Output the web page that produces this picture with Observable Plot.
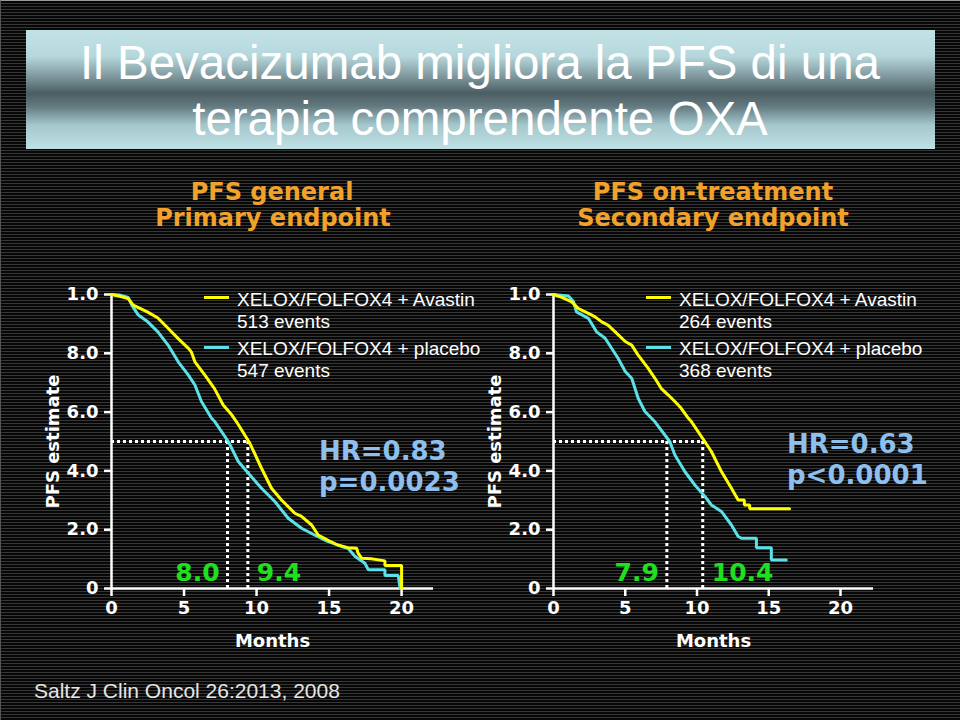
<!DOCTYPE html>
<html>
<head>
<meta charset="utf-8">
<script src="https://cdn.jsdelivr.net/npm/d3@7"></script>
<script src="https://cdn.jsdelivr.net/npm/@observablehq/plot@0.6"></script>
<style>
html, body { margin: 0; padding: 0; background: #000; }
#page {
  position: relative; width: 960px; height: 720px; overflow: hidden;
  background: repeating-linear-gradient(to bottom, #070707 0px, #070707 2px, #363636 2px, #363636 3px);
  box-sizing: border-box; border-top: 1px solid #9a9a9a; border-left: 1px solid #555;
}
#titlebox {
  position: absolute; left: 25px; top: 29px; width: 909px; height: 119px;
  background: linear-gradient(to bottom, #c2e2e6 0%, #b6d8dc 22%, #7c949a 40%, #4c5e63 53%, #62797f 64%, #a5c8cd 80%, #bfe1e5 100%);
}
.t { position: absolute; white-space: nowrap; line-height: normal; }
.seg { position: absolute; height: 3px; width: 25px; }
.panel { position: absolute; top: 270px; }
</style>
</head>
<body>
<div id="page"><div id="titlebox"></div></div>
<script>
// ---------- data ----------
const titleLines = ["Il Bevacizumab migliora la PFS di una", "terapia comprendente OXA"];
const panelTitles = ["PFS general", "PFS on-treatment"];
const panelSubtitles = ["Primary endpoint", "Secondary endpoint"];
const seriesNames = ["XELOX/FOLFOX4 + Avastin", "XELOX/FOLFOX4 + placebo"];
const leftEvents = ["513 events", "547 events"];
const rightEvents = ["264 events", "368 events"];
const leftStats = ["HR=0.83", "p=0.0023"];
const rightStats = ["HR=0.63", "p<0.0001"];
const leftMedians = [8.0, 9.4];
const rightMedians = [7.9, 10.4];
const xTicks = [0, 5, 10, 15, 20];
const yTicks = [0, 0.2, 0.4, 0.6, 0.8, 1.0];
const yTickLabels = ["0", "2.0", "4.0", "6.0", "8.0", "1.0"];
const caption = "Saltz J Clin Oncol 26:2013, 2008";

// PFS general — Avastin (yellow)
const leftAvaMonths = [0, 0.5, 1.15, 1.5, 2.5, 3.2, 3.9, 4.6, 5.3, 5.5, 5.75, 6.44, 7.1, 7.7, 8.3, 8.62, 9.54, 10.34, 11.03, 11.72, 12.64, 13.1, 13.8, 14.25, 14.9, 15.6, 16.3, 16.9, 17.0, 17.24, 17.9, 18.85, 18.85, 20.0, 20.0];
const leftAvaPFS    = [1.0, 0.995, 0.986, 0.964, 0.94, 0.92, 0.885, 0.85, 0.817, 0.805, 0.771, 0.726, 0.68, 0.624, 0.59, 0.567, 0.494, 0.409, 0.341, 0.301, 0.256, 0.245, 0.216, 0.182, 0.165, 0.148, 0.139, 0.137, 0.12, 0.103, 0.101, 0.094, 0.078, 0.078, 0.0];
// PFS general — placebo (cyan)
const leftPlaMonths = [0, 0.6, 1.15, 1.4, 1.85, 2.5, 3.2, 3.9, 4.6, 5.3, 5.75, 6.2, 6.9, 7.13, 8.05, 8.74, 9.54, 10.34, 11.26, 12.18, 13.1, 14.0, 14.9, 15.86, 16.3, 16.8, 17.47, 17.7, 18.85, 18.85, 19.77, 19.9];
const leftPlaPFS    = [1.0, 0.998, 0.99, 0.964, 0.93, 0.907, 0.873, 0.828, 0.771, 0.726, 0.692, 0.636, 0.579, 0.567, 0.5, 0.432, 0.386, 0.341, 0.296, 0.239, 0.205, 0.182, 0.16, 0.143, 0.137, 0.109, 0.086, 0.064, 0.064, 0.044, 0.044, 0.0];
// PFS on-treatment — Avastin (yellow)
const rightAvaMonths = [0, 0.58, 1.27, 1.74, 2.43, 2.9, 3.36, 3.8, 4.3, 5.0, 5.45, 5.9, 6.6, 7.07, 7.5, 8.0, 8.46, 8.9, 9.4, 9.62, 10.54, 11.0, 11.7, 12.4, 12.87, 13.3, 13.3, 13.67, 13.67, 16.45];
const rightAvaPFS    = [1.0, 0.99, 0.975, 0.952, 0.936, 0.924, 0.907, 0.896, 0.873, 0.84, 0.828, 0.794, 0.749, 0.715, 0.681, 0.658, 0.636, 0.613, 0.579, 0.567, 0.5, 0.466, 0.398, 0.341, 0.301, 0.301, 0.284, 0.284, 0.271, 0.271];
// PFS on-treatment — placebo (cyan)
const rightPlaMonths = [0, 1.04, 1.4, 1.6, 2.43, 3.0, 3.6, 4.05, 4.5, 5.0, 5.45, 5.9, 6.37, 7.07, 8.1, 8.46, 9.15, 9.85, 10.54, 11.0, 11.7, 12.4, 12.87, 13.1, 14.14, 14.14, 15.18, 15.18, 16.22];
const rightPlaPFS    = [1.0, 0.995, 0.975, 0.941, 0.919, 0.873, 0.851, 0.817, 0.783, 0.738, 0.715, 0.647, 0.602, 0.567, 0.5, 0.454, 0.398, 0.352, 0.314, 0.284, 0.262, 0.216, 0.177, 0.171, 0.171, 0.139, 0.139, 0.097, 0.097];

// ---------- styles ----------
const YELLOW = "#ffff00", CYAN = "#5ae2e8", GREEN = "#1fe01f", STATBLUE = "#8ec0ee", ORANGE = "#f2a22a";
const ASC = {"Liberation Sans": 0.905, "DejaVu Sans": 0.928};
const page = document.getElementById("page");

function place(txt, x, y, o) {
  const d = document.createElement("div");
  d.className = "t";
  d.textContent = txt;
  const fam = o.font || "Liberation Sans";
  d.style.fontFamily = `'${fam}'`;
  d.style.fontSize = o.size + "px";
  d.style.fontWeight = o.weight || "normal";
  d.style.color = o.color || "#fff";
  d.style.top = (y - ASC[fam] * o.size) + "px";
  d.style.left = x + "px";
  if (o.anchor === "middle") d.style.transform = "translateX(-50%)";
  page.appendChild(d);
  return d;
}
function seg(x, y, color) {
  const d = document.createElement("div");
  d.className = "seg";
  d.style.left = x + "px"; d.style.top = (y - 1.5) + "px"; d.style.background = color;
  page.appendChild(d);
}

// title
place(titleLines[0], 479, 77, {size: 47.5, color: "#fff", anchor: "middle"});
place(titleLines[1], 479, 133, {size: 47.5, color: "#fff", anchor: "middle"});
// panel titles
const subFont = {font: "DejaVu Sans", weight: "bold", size: 24, color: ORANGE, anchor: "middle"};
place(panelTitles[0], 271, 199, subFont);
place(panelSubtitles[0], 272, 225, subFont);
place(panelTitles[1], 712, 199, subFont);
place(panelSubtitles[1], 712, 225, subFont);

function panel(opts) {
  const {left, width, marginLeft, marginRight, xMax, ava, pla, medians} = opts;
  const chart = Plot.plot({
    width, height: 390,
    marginLeft, marginRight, marginTop: 23, marginBottom: 73,
    x: {domain: [0, xMax]},
    y: {domain: [0, 1]},
    style: {background: "transparent", color: "#fff", fontFamily: "DejaVu Sans", fontWeight: "bold", fontSize: "18px", overflow: "visible"},
    marks: [
      Plot.axisY({ticks: yTicks, tickFormat: d => yTickLabels[yTicks.indexOf(d)], tickSize: 7, tickPadding: 6, strokeWidth: 2.5,
                  label: "PFS estimate", labelAnchor: "center", labelOffset: 65, labelArrow: "none", fontSize: 18}),
      Plot.axisX({ticks: xTicks, tickSize: 8, tickPadding: 5, strokeWidth: 2.5,
                  label: "Months", labelAnchor: "center", labelOffset: 58, labelArrow: "none", fontSize: 18}),
      Plot.ruleY([0], {x1: 0, x2: xMax, stroke: "#fff", strokeWidth: 2.5}),
      Plot.ruleX([0], {y1: 0, y2: 1, stroke: "#fff", strokeWidth: 2.5}),
      Plot.ruleY([0.5], {x1: 0, x2: d3.max(medians), stroke: "#fff", strokeWidth: 3, strokeDasharray: "3,3"}),
      Plot.ruleX(medians, {y1: 0, y2: 0.5, stroke: "#fff", strokeWidth: 3, strokeDasharray: "3,3"}),
      Plot.line(pla[0], {x: (d, i) => pla[0][i], y: (d, i) => pla[1][i], stroke: CYAN, strokeWidth: 3, strokeLinejoin: "miter"}),
      Plot.line(ava[0], {x: (d, i) => ava[0][i], y: (d, i) => ava[1][i], stroke: YELLOW, strokeWidth: 3, strokeLinejoin: "miter"}),
      Plot.text([medians[0]], {x: d => d, y: 0, text: d => d.toFixed(1), textAnchor: "end", dx: -8, dy: -16, lineAnchor: "middle",
                               fill: GREEN, fontSize: 25, fontWeight: "bold"}),
      Plot.text([medians[1]], {x: d => d, y: 0, text: d => d.toFixed(1), textAnchor: "start", dx: 9, dy: -16, lineAnchor: "middle",
                               fill: GREEN, fontSize: 25, fontWeight: "bold"})
    ]
  });
  chart.classList.add("panel");
  chart.style.left = left + "px";
  page.appendChild(chart);
}

panel({left: 0, width: 480, marginLeft: 110, marginRight: 48, xMax: 22.2,
       ava: [leftAvaMonths, leftAvaPFS], pla: [leftPlaMonths, leftPlaPFS], medians: leftMedians});
panel({left: 480, width: 460, marginLeft: 72, marginRight: 68, xMax: 22.3,
       ava: [rightAvaMonths, rightAvaPFS], pla: [rightPlaMonths, rightPlaPFS], medians: rightMedians});

// legends
const legendFont = {size: 19, color: "#fff"};
seg(203, 296, YELLOW); seg(203, 346, CYAN);
place(seriesNames[0], 236, 305, legendFont);
place(leftEvents[0], 236, 327, legendFont);
place(seriesNames[1], 236, 354, legendFont);
place(leftEvents[1], 236, 376, legendFont);
seg(645, 296, YELLOW); seg(645, 346, CYAN);
place(seriesNames[0], 678, 305, legendFont);
place(rightEvents[0], 678, 327, legendFont);
place(seriesNames[1], 678, 354, legendFont);
place(rightEvents[1], 678, 376, legendFont);

// stats
const statFont = {font: "DejaVu Sans", weight: "bold", size: 26, color: STATBLUE};
place(leftStats[0], 318, 459, statFont);
place(leftStats[1], 318, 490, statFont);
place(rightStats[0], 786, 452, statFont);
place(rightStats[1], 786, 483, statFont);

// caption
place(caption, 33, 697, {size: 21, color: "#e6e6e6"});
</script>
</body>
</html>
